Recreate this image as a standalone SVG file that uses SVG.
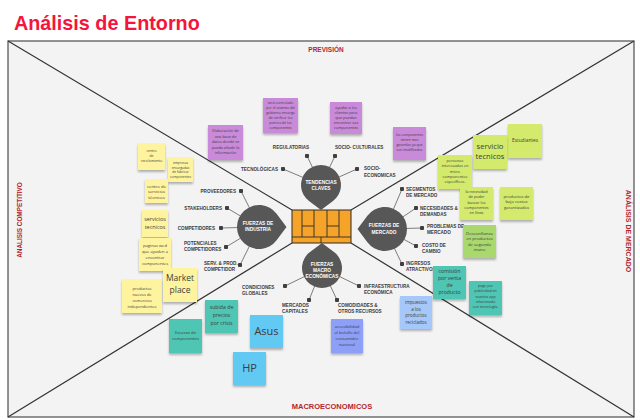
<svg xmlns="http://www.w3.org/2000/svg" xmlns:xlink="http://www.w3.org/1999/xlink" width="640" height="420" viewBox="0 0 640 420">
<defs>
<style>
.title{font-family:"Liberation Sans",Arial,sans-serif;font-weight:700;font-size:19.8px;fill:#f5143c}
.sec{font-family:"Liberation Sans",Arial,sans-serif;font-weight:700;fill:#b3262e;text-anchor:middle}
.lbl{font-family:"Liberation Sans",Arial,sans-serif;font-weight:700;font-size:4.6px;fill:#3a3a3a}
.dt{font-family:"Liberation Sans",Arial,sans-serif;font-weight:700;font-size:4.8px;fill:#ffffff;text-anchor:middle}
.drop{fill:#575757}
.spk{stroke:#6e6e6e;stroke-width:0.9;fill:none;marker-end:url(#dot)}
.diag{stroke:#333;stroke-width:1.2;fill:none}
.n{filter:url(#sh)}
.pu{fill:#c98ad9}.ye{fill:#fef49f}.gr{fill:#d3ea6c}.dg{fill:#a9d86e}.te{fill:#50c5b3}.bl{fill:#62c9f3}.lb{fill:#a5c8f9}.vi{fill:#8d9ff6}
.nt{font-family:"Open Sans","Liberation Sans",sans-serif;fill:#3d3d3d;text-anchor:middle}
</style>
<filter id="sh" x="-20%" y="-20%" width="140%" height="150%">
<feDropShadow dx="0" dy="2" stdDeviation="1.2" flood-color="#000" flood-opacity="0.28"/>
</filter>
<marker id="dot" viewBox="0 0 6 6" refX="3" refY="3" markerWidth="4.6" markerHeight="4.6" markerUnits="userSpaceOnUse">
<circle cx="3" cy="3" r="3" fill="#3f3f3f"/>
</marker>
<path id="drop" d="M0,25 L12,16 A20,20 0 1 0 -12,16 Z"/>
</defs>

<rect x="0" y="0" width="640" height="420" fill="#ffffff"/>
<text class="title" x="14" y="30">Análisis de Entorno</text>

<g id="frame">
<rect x="8" y="41" width="626" height="376" fill="#f3f3f3" stroke="#4d4d4d" stroke-width="1.2"/>
<path class="diag" d="M8,41 L292,210 M634,41 L351,210 M8,417 L292,243 M634,417 L351,243"/>
<text class="sec" x="326" y="52" font-size="6.5">PREVISIÓN</text>
<text class="sec" x="332" y="409" font-size="7.5">MACROECONOMICOS</text>
<text class="sec" font-size="6.4" transform="translate(22,220) rotate(-90)">ANALISIS COMPETITIVO</text>
<text class="sec" font-size="7" transform="translate(626,231) rotate(90)">ANÁLISIS DE MERCADO</text>
</g>

<g id="connectors">
<path class="spk" d="M321,185 L307,156"/>
<path class="spk" d="M321,185 L335,156"/>
<path class="spk" d="M321,185 L283,169"/>
<path class="spk" d="M321,185 L357,169"/>
<path class="spk" d="M259,227 L241,191"/>
<path class="spk" d="M259,227 L227,208"/>
<path class="spk" d="M259,227 L221,228"/>
<path class="spk" d="M259,227 L226,247"/>
<path class="spk" d="M259,227 L240,265"/>
<path class="spk" d="M385,229 L402,189"/>
<path class="spk" d="M385,229 L416,208"/>
<path class="spk" d="M385,229 L422,228"/>
<path class="spk" d="M385,229 L416,246"/>
<path class="spk" d="M385,229 L402,264"/>
<path class="spk" d="M322,268 L285,286"/>
<path class="spk" d="M322,268 L309,300"/>
<path class="spk" d="M322,268 L337,300"/>
<path class="spk" d="M322,268 L359,286"/>
</g>

<g id="hub">
<rect x="292" y="210" width="59" height="33" fill="#f6a32a" stroke="#2b2b2b" stroke-width="1"/>
<path d="M302,210 V237 M314,210 V237 M327,210 V237 M339,210 V237 M292,237 H351 M302,226 H314 M327,226 H339 M321,237 V243" stroke="#2b2b2b" stroke-width="0.9" fill="none"/>
</g>

<g id="tendencias">
<use xlink:href="#drop" class="drop" transform="translate(321,185)"/>
<text class="dt" x="321" y="183.5">TENDENCIAS</text>
<text class="dt" x="321" y="189.5">CLAVES</text>
</g>
<g id="industria">
<use xlink:href="#drop" class="drop" transform="translate(259,227) rotate(-90) scale(1.1)"/>
<text class="dt" x="258" y="225">FUERZAS DE</text>
<text class="dt" x="258" y="231">INDUSTRIA</text>
</g>
<g id="mercado">
<use xlink:href="#drop" class="drop" transform="translate(385,229) rotate(90) scale(1.1)"/>
<text class="dt" x="384" y="227">FUERZAS DE</text>
<text class="dt" x="384" y="233.5">MERCADO</text>
</g>
<g id="macro">
<use xlink:href="#drop" class="drop" transform="translate(322,268) rotate(180)"/>
<text class="dt" x="322" y="266">FUERZAS</text>
<text class="dt" x="322" y="272">MACRO</text>
<text class="dt" x="322" y="278">ECONÓMICAS</text>
</g>

<g id="labels" class="lbl">
<text x="291" y="149" text-anchor="middle">REGULATORIAS</text>
<text x="335" y="149">SOCIO- CULTURALES</text>
<text x="278" y="171" text-anchor="end">TECNOLÓGICAS</text>
<text x="364" y="170">SOCIO-</text>
<text x="364" y="176.5">ECONOMICAS</text>
<text x="236" y="193" text-anchor="end">PROVEEDORES</text>
<text x="222" y="210" text-anchor="end">STAKEHOLDERS</text>
<text x="215" y="229.5" text-anchor="end">COMPETIDORES</text>
<text x="184" y="245">POTENCIALES</text>
<text x="184" y="251">COMPETIDORES</text>
<text x="204" y="264.5">SERV. &amp; PROD.</text>
<text x="204" y="270.5">COMPETIDOR</text>
<text x="406" y="190.5">SEGMENTOS</text>
<text x="406" y="196.5">DE MERCADO</text>
<text x="420" y="209.5">NECESIDADES &amp;</text>
<text x="420" y="215.5">DEMANDAS</text>
<text x="427" y="228">PROBLEMAS DE</text>
<text x="427" y="234">MERCADO</text>
<text x="422" y="247">COSTO DE</text>
<text x="422" y="253">CAMBIO</text>
<text x="406" y="265">INGRESOS</text>
<text x="406" y="271">ATRACTIVOS</text>
<text x="242" y="289">CONDICIONES</text>
<text x="242" y="295">GLOBALES</text>
<text x="282" y="307">MERCADOS</text>
<text x="282" y="313">CAPITALES</text>
<text x="338" y="307">COMODIDADES &amp;</text>
<text x="338" y="313">OTROS RECURSOS</text>
<text x="364" y="288">INFRAESTRUCTURA</text>
<text x="364" y="294">ECONÓMICA</text>
</g>

<g id="note-elaboracion"><rect class="n pu" x="208" y="125" width="35" height="35"/>
<text class="nt" font-size="3.8"><tspan x="225.5" y="132">Elaboración de</tspan><tspan x="225.5" y="137.5">una base de</tspan><tspan x="225.5" y="143">datos donde se</tspan><tspan x="225.5" y="148.5">pueda añadir la</tspan><tspan x="225.5" y="154">información</tspan></text></g>
<g id="note-controlado"><rect class="n pu" x="263" y="98" width="35" height="35"/>
<text class="nt" font-size="3.5"><tspan x="280.5" y="104">será controlado</tspan><tspan x="280.5" y="109">por el sistema del</tspan><tspan x="280.5" y="114">gobierno encarga</tspan><tspan x="280.5" y="119">de verificar los</tspan><tspan x="280.5" y="124">precios de los</tspan><tspan x="280.5" y="129">componentes</tspan></text></g>
<g id="note-ayudar"><rect class="n pu" x="330" y="102" width="32" height="32"/>
<text class="nt" font-size="3.8"><tspan x="346" y="108.5">ayudar a los</tspan><tspan x="346" y="113.5">clientes para</tspan><tspan x="346" y="118.5">que puedan</tspan><tspan x="346" y="124">encontrar sus</tspan><tspan x="346" y="129">componentes</tspan></text></g>
<g id="note-garantias"><rect class="n pu" x="393" y="127" width="33" height="33"/>
<text class="nt" font-size="3.4"><tspan x="409.5" y="136">los componentes</tspan><tspan x="409.5" y="141">tienen mas</tspan><tspan x="409.5" y="146">garantías ya que</tspan><tspan x="409.5" y="151">son modificados</tspan></text></g>

<g id="note-reciclamiento"><rect class="n ye" x="138" y="143" width="27" height="27"/>
<text class="nt" font-size="3.4"><tspan x="151.5" y="152">centro</tspan><tspan x="151.5" y="157">de</tspan><tspan x="151.5" y="162">reciclamiento</tspan></text></g>
<g id="note-empresas"><rect class="n ye" x="168" y="157" width="25" height="25"/>
<text class="nt" font-size="3.3"><tspan x="180.5" y="164">empresas</tspan><tspan x="180.5" y="168.5">encargadas</tspan><tspan x="180.5" y="173">de fabricar</tspan><tspan x="180.5" y="177.5">componentes</tspan></text></g>
<g id="note-centro-servicios"><rect class="n ye" x="145" y="179" width="23" height="24"/>
<text class="nt" font-size="4.3"><tspan x="156.5" y="187.5">centro de</tspan><tspan x="156.5" y="193">servicios</tspan><tspan x="156.5" y="198.5">técnicos</tspan></text></g>
<g id="note-servicios-tecnicos"><rect class="n ye" x="142" y="210" width="26" height="27"/>
<text class="nt" font-size="5.4"><tspan x="155" y="221">servicios</tspan><tspan x="155" y="228.5">tecnicos</tspan></text></g>
<g id="note-paginas"><rect class="n ye" x="139" y="238" width="32" height="33"/>
<text class="nt" font-size="4.1"><tspan x="155" y="246.5">paginas wed</tspan><tspan x="155" y="252.5">que ayuden a</tspan><tspan x="155" y="258.5">encontrar</tspan><tspan x="155" y="264.5">componentes</tspan></text></g>
<g id="note-productos-nuevos"><rect class="n ye" x="122" y="279" width="40" height="34"/>
<text class="nt" font-size="4.0"><tspan x="142" y="289.5">productos</tspan><tspan x="142" y="295.5">nuevos de</tspan><tspan x="142" y="301.5">comercios</tspan><tspan x="142" y="307.5">independientes</tspan></text></g>
<g id="note-market"><rect class="n ye" x="163" y="268" width="34" height="34"/>
<text class="nt" font-size="8.5"><tspan x="180" y="280.5">Market</tspan><tspan x="180" y="292.5">place</tspan></text></g>

<g id="note-estudiantes"><rect class="n gr" x="508" y="124" width="34" height="34"/>
<text class="nt" font-size="4.8"><tspan x="525" y="141.5">Estudiantes</tspan></text></g>
<g id="note-servicio-tecnicos"><rect class="n gr" x="473" y="135" width="34" height="34"/>
<text class="nt" font-size="7.6"><tspan x="490" y="149">servicio</tspan><tspan x="490" y="159">tecnicos</tspan></text></g>
<g id="note-personas"><rect class="n gr" x="438" y="155" width="34" height="34"/>
<text class="nt" font-size="3.9"><tspan x="455" y="161.5">personas</tspan><tspan x="455" y="167">interesadas en</tspan><tspan x="455" y="172.5">micro</tspan><tspan x="455" y="177.5">componentes</tspan><tspan x="455" y="182.5">específicos.</tspan></text></g>
<g id="note-necesidad"><rect class="n gr" x="460" y="187" width="33" height="33"/>
<text class="nt" font-size="3.8"><tspan x="476.5" y="192.5">la necesidad</tspan><tspan x="476.5" y="198">de poder</tspan><tspan x="476.5" y="203.5">buscar los</tspan><tspan x="476.5" y="208.5">componentes</tspan><tspan x="476.5" y="214">en línea</tspan></text></g>
<g id="note-bajo-costo"><rect class="n gr" x="500" y="187" width="33" height="33"/>
<text class="nt" font-size="4.2"><tspan x="516.5" y="197.5">productos de</tspan><tspan x="516.5" y="203">bajo costos</tspan><tspan x="516.5" y="208.5">garantizados</tspan></text></g>
<g id="note-desconfianza"><rect class="n dg" x="463" y="225" width="33" height="33"/>
<text class="nt" font-size="4.3"><tspan x="479.5" y="234.5">Desconfianza</tspan><tspan x="479.5" y="240">en productos</tspan><tspan x="479.5" y="245.5">de segunda</tspan><tspan x="479.5" y="251">mano</tspan></text></g>

<g id="note-comision"><rect class="n te" x="433" y="266" width="33" height="33"/>
<text class="nt" font-size="5.2"><tspan x="449.5" y="273">comisión</tspan><tspan x="449.5" y="280">por venta</tspan><tspan x="449.5" y="287">de</tspan><tspan x="449.5" y="294">producto</tspan></text></g>
<g id="note-pago"><rect class="n te" x="469" y="281" width="33" height="34"/>
<text class="nt" font-size="3.6"><tspan x="485.5" y="286.5">pago por</tspan><tspan x="485.5" y="292">publicidad en</tspan><tspan x="485.5" y="297.5">nuestra app</tspan><tspan x="485.5" y="302.5">relacionado</tspan><tspan x="485.5" y="308">con tecnología.</tspan></text></g>
<g id="note-subida"><rect class="n te" x="205" y="300" width="33" height="33"/>
<text class="nt" font-size="5.2"><tspan x="221.5" y="309">subida de</tspan><tspan x="221.5" y="317">precios</tspan><tspan x="221.5" y="325">por crisis</tspan></text></g>
<g id="note-escasez"><rect class="n te" x="169" y="319" width="33" height="34"/>
<text class="nt" font-size="4.2"><tspan x="185.5" y="333.5">Escasez de</tspan><tspan x="185.5" y="339.5">componentes</tspan></text></g>

<g id="note-asus"><rect class="n bl" x="250" y="315" width="33" height="33"/>
<text class="nt" font-size="11"><tspan x="266.5" y="335">Asus</tspan></text></g>
<g id="note-hp"><rect class="n bl" x="233" y="352" width="33" height="33"/>
<text class="nt" font-size="11"><tspan x="249.5" y="372">HP</tspan></text></g>
<g id="note-impuestos"><rect class="n lb" x="400" y="296" width="32" height="33"/>
<text class="nt" font-size="4.5"><tspan x="416" y="303.5">impuestos</tspan><tspan x="416" y="310.5">a los</tspan><tspan x="416" y="317">productos</tspan><tspan x="416" y="324">reciclados</tspan></text></g>
<g id="note-accesibilidad"><rect class="n vi" x="331" y="319" width="32" height="34"/>
<text class="nt" font-size="4.1"><tspan x="347" y="327.5">accesibilidad</tspan><tspan x="347" y="333.5">al bolsillo del</tspan><tspan x="347" y="339.5">consumidor</tspan><tspan x="347" y="345.5">nacional</tspan></text></g>
</svg>
